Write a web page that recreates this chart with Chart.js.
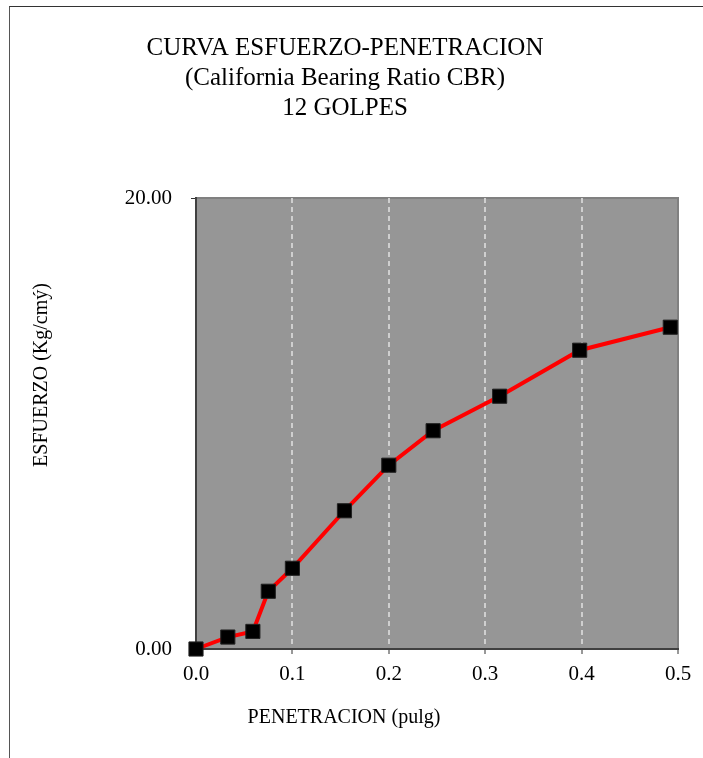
<!DOCTYPE html>
<html>
<head>
<meta charset="utf-8">
<script src="https://cdn.jsdelivr.net/npm/chart.js@4"></script>
<style>
  body { margin: 0; background: #fff; overflow: hidden; }
  #caja { position: relative; width: 703px; height: 758px; }
  #marco { position: absolute; left: 9px; top: 6px; width: 800px; height: 800px; border-left: 1px solid #555; border-top: 1px solid #333; pointer-events: none; }
</style>
</head>
<body>
<div id="caja">
  <canvas id="myChart"></canvas>
  <div id="marco"></div>
</div>
<script>
const ctx = document.getElementById("myChart");

// datos
const penetracion = [0, 0.033, 0.059, 0.075, 0.1, 0.154, 0.2, 0.246, 0.315, 0.398, 0.492];
const esfuerzo = [0, 0.53, 0.78, 2.56, 3.58, 6.13, 8.15, 9.68, 11.21, 13.25, 14.27];
const ticksX = [0, 0.1, 0.2, 0.3, 0.4, 0.5];
const ticksY = [0, 20];

const titulo = ["CURVA ESFUERZO-PENETRACION", "(California Bearing Ratio CBR)", "12 GOLPES"];
const tituloX = "PENETRACION (pulg)";
const tituloY = "ESFUERZO (Kg/cmý)";

const fuente = "'Liberation Serif', 'Times New Roman', serif";

// fondo gris del area de trazado y textos
const fondo = {
  id: "fondo",
  beforeDraw(chart) {
    const { ctx, chartArea: a } = chart;
    ctx.save();
    ctx.fillStyle = "#969696";
    ctx.fillRect(a.left, a.top, a.right - a.left, a.bottom - a.top);
    ctx.strokeStyle = "#808080";
    ctx.lineWidth = 2;
    ctx.beginPath();
    ctx.moveTo(a.left, a.top);
    ctx.lineTo(a.right, a.top);
    ctx.lineTo(a.right, a.bottom);
    ctx.stroke();
    ctx.restore();
  },
  afterDraw(chart) {
    const c = chart.ctx;
    c.save();
    c.fillStyle = "#000";
    c.textAlign = "center";
    c.textBaseline = "middle";
    c.font = "25px " + fuente;
    titulo.forEach((t, i) => c.fillText(t, 345, 48 + i * 30));
    c.font = "20px " + fuente;
    c.fillText(tituloX, 344, 718);
    c.translate(42, 375);
    c.rotate(-Math.PI / 2);
    c.fillText(tituloY, 0, 0);
    c.restore();
  },
};

const crearGrafico = (xs, ys) => {
  new Chart(ctx, {
    type: "line",
    data: {
      datasets: [
        {
          data: xs.map((x, i) => ({ x: x, y: ys[i] })),
          borderColor: "#ff0000",
          borderWidth: 4,
          tension: 0,
          pointStyle: "rect",
          pointRadius: 10,
          pointBackgroundColor: "#000",
          pointBorderColor: "#222",
          pointBorderWidth: 1,
          clip: false,
        },
      ],
    },
    options: {
      responsive: true,
      maintainAspectRatio: false,
      animation: false,
      layout: { padding: { left: 116, right: 25, top: 198, bottom: 69 } },
      plugins: { legend: { display: false }, tooltip: { enabled: false } },
      scales: {
        x: {
          type: "linear",
          min: ticksX[0],
          max: ticksX[ticksX.length - 1],
          afterBuildTicks: (s) => { s.ticks = ticksX.map((v) => ({ value: v })); },
          afterFit: (s) => { s.height = 40; },
          ticks: {
            color: "#000",
            padding: 8,
            font: { family: fuente, size: 21 },
            callback: (v) => Number(v).toFixed(1),
          },
          grid: {
            color: (c) => (c.tick && c.tick.value > 0 && c.tick.value < 0.5 ? "#cfcfcf" : "rgba(0,0,0,0)"),
            lineWidth: 2,
            tickLength: 5,
            tickColor: "#333",
            tickWidth: 1,
          },
          border: { color: "#404040", width: 2, dash: [5, 4] },
        },
        y: {
          type: "linear",
          min: ticksY[0],
          max: ticksY[ticksY.length - 1],
          afterBuildTicks: (s) => { s.ticks = ticksY.map((v) => ({ value: v })); },
          afterFit: (s) => { s.width = 80; },
          ticks: {
            color: "#000",
            padding: 19,
            font: { family: fuente, size: 21 },
            callback: (v) => Number(v).toFixed(2),
          },
          grid: {
            drawOnChartArea: false,
            tickLength: 5,
            tickColor: "#333",
            tickWidth: 1,
          },
          border: { color: "#404040", width: 2 },
        },
      },
    },
    plugins: [fondo],
  });
};

crearGrafico(penetracion, esfuerzo);
</script>
</body>
</html>
